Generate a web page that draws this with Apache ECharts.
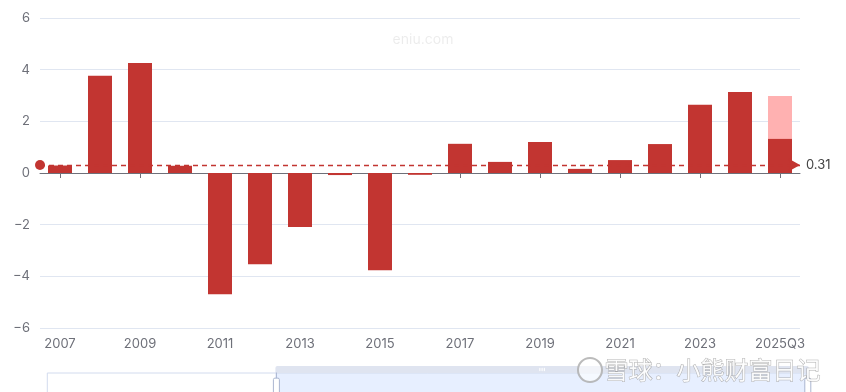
<!DOCTYPE html>
<html>
<head>
<meta charset="utf-8">
<script src="https://cdn.jsdelivr.net/npm/echarts@6/dist/echarts.min.js"></script>
<style>html,body{margin:0;padding:0;background:#fff;}#c{width:846px;height:392px;}</style>
</head>
<body>
<div id="c"></div>
<script>
const categories = ['2007','2008','2009','2010','2011','2012','2013','2014','2015','2016','2017','2018','2019','2020','2021','2022','2023','2024','2025Q3'];
const values = [0.29, 3.76, 4.26, 0.28, -4.69, -3.53, -2.09, -0.08, -3.76, -0.07, 1.13, 0.43, 1.2, 0.16, 0.5, 1.12, 2.64, 3.14, 1.32];
const forecast = [null, null, null, null, null, null, null, null, null, null, null, null, null, null, null, null, null, null, 2.98];
const refLine = 0.31;
const yTicks = [-6, -4, -2, 0, 2, 4, 6];

const chart = echarts.init(document.getElementById('c'), null, {renderer: 'canvas'});
const font = 'Inter, "Noto Sans", sans-serif';
const red = '#c23531';
chart.setOption({
  animation: false,
  textStyle: {fontFamily: font},
  grid: {left: 40, right: 46, top: 18, bottom: 64},
  xAxis: [
    {
      type: 'category', data: categories,
      axisLine: {onZero: true, lineStyle: {color: '#6e7079'}},
      axisTick: {show: true, alignWithLabel: true, interval: 1, lineStyle: {color: '#6e7079'}},
      axisLabel: {show: false},
      splitLine: {show: false}
    },
    {
      type: 'category', data: categories, position: 'bottom',
      axisLine: {show: false, onZero: false},
      axisTick: {show: false},
      axisLabel: {interval: 1, color: '#6e7079', fontSize: 13, margin: 10, fontFamily: font}
    },
    {
      type: 'value', show: false, min: 0, max: 100
    }
  ],
  yAxis: {
    type: 'value', min: yTicks[0], max: yTicks[yTicks.length - 1], interval: 2,
    axisLabel: {color: '#6e7079', fontSize: 13, margin: 10, fontFamily: font,
      formatter: v => String(v).replace('-', '\u2212')},
    splitLine: {lineStyle: {color: '#e0e6f1'}},
    axisLine: {show: false}, axisTick: {show: false}
  },
  dataZoom: [{
    type: 'slider', xAxisIndex: 2, start: 30, end: 100,
    left: 44, right: 40, top: 366, height: 30,
    showDataShadow: false, showDetail: false,
    borderColor: '#d2dbee', fillerColor: 'rgba(135,175,255,0.2)',
    moveHandleStyle: {color: '#dfe4f0', opacity: 1},
    handleStyle: {color: '#fff', borderColor: '#aab6d0'}
  }],
  series: [
    {
      type: 'bar', name: 'forecast', data: forecast, barWidth: '60%', barGap: '-100%',
      itemStyle: {color: '#ffb1b1'}, z: 1
    },
    {
      type: 'bar', name: 'value', data: values, barWidth: '60%',
      itemStyle: {color: red}, z: 2,
      markLine: {
        silent: true,
        symbol: ['circle', 'arrow'], symbolSize: [10, 12],
        lineStyle: {color: red, type: [5, 4], width: 1.3, opacity: 1},
        itemStyle: {color: red},
        label: {position: 'end', color: '#444', fontSize: 13, distance: 6, fontFamily: font, formatter: () => refLine.toFixed(2)},
        data: [{yAxis: refLine, lineStyle: {color: red, type: [5, 4], width: 1.3}, itemStyle: {color: red}}]
      }
    }
  ],
  graphic: [
    {type: 'text', left: 'center', top: 33, style: {text: 'eniu.com', fill: 'rgba(0,0,0,0.08)', fontSize: 14, fontFamily: font}},
    {type: 'circle', shape: {cx: 590, cy: 370, r: 12}, style: {fill: 'rgba(255,255,255,0.6)', stroke: 'rgba(170,170,170,0.8)', lineWidth: 2}, z: 100},
    {type: 'text', left: 604, top: 357, z: 100, style: {text: '雪球：小熊财富日记', fill: 'rgba(255,255,255,0.9)', stroke: 'rgba(150,150,150,0.75)', lineWidth: 1, fontSize: 24, fontFamily: '"Noto Sans CJK SC"'}}
  ]
});
</script>
</body>
</html>
